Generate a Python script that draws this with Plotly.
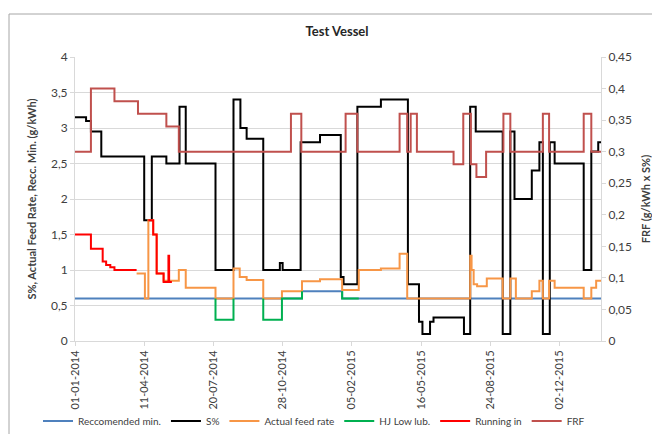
import plotly.graph_objects as go

# ---------------- data (step series: value holds until next date) ----------------
rec_dates = ["2014-01-01", "2014-11-25", "2015-01-22", "2016-01-31"]
rec_values = [0.6, 0.7, 0.6, 0.6]

s_dates = ["2014-01-01", "2014-01-17", "2014-01-24", "2014-02-08", "2014-04-11", "2014-04-22",
           "2014-05-13", "2014-06-01", "2014-06-10", "2014-07-23", "2014-08-18", "2014-08-28",
           "2014-09-06", "2014-09-30", "2014-10-24", "2014-10-28", "2014-11-23", "2014-12-21",
           "2015-01-20", "2015-01-24", "2015-02-13", "2015-03-19", "2015-04-27", "2015-05-13",
           "2015-05-18", "2015-05-29", "2015-06-03", "2015-07-17", "2015-07-26", "2015-08-03",
           "2015-09-11", "2015-09-22", "2015-09-28", "2015-10-23", "2015-11-03", "2015-11-08",
           "2015-11-18", "2015-11-25", "2016-01-06", "2016-01-17", "2016-01-27", "2016-01-31"]
s_values = [3.15, 3.10, 2.95, 2.6, 1.7, 2.6, 2.5, 3.3, 2.5, 1.0,
            3.4, 3.0, 2.85, 1.0, 1.1, 1.0, 2.8, 2.9, 0.9, 0.8,
            3.3, 3.4, 0.8, 0.27, 0.1, 0.27, 0.33, 0.1, 3.3, 2.95,
            0.1, 2.95, 2.0, 2.4, 2.8, 0.1, 2.8, 2.5, 1.0, 2.67,
            2.8, 2.8]

feed_dates = ["2014-03-31", "2014-04-12", "2014-04-17", "2014-04-24", "2014-04-29", "2014-05-09",
              "2014-05-31", "2014-06-10", "2014-07-23", "2014-08-18", "2014-08-27", "2014-09-06",
              "2014-09-30", "2014-10-27", "2014-11-25", "2014-12-21", "2015-01-22", "2015-02-15",
              "2015-03-19", "2015-04-15", "2015-04-26", "2015-07-26", "2015-07-28", "2015-07-31",
              "2015-08-05", "2015-08-19", "2015-09-11", "2015-09-22", "2015-09-30", "2015-10-23",
              "2015-11-03", "2015-11-08", "2015-11-17", "2015-11-25", "2016-01-06", "2016-01-17",
              "2016-01-24", "2016-01-31"]
feed_values = [0.95, 0.6, 1.7, 1.5, 0.95, 0.85, 1.0, 0.75, 0.6, 1.02,
               0.9, 0.86, 0.6, 0.7, 0.84, 0.87, 0.72, 1.0, 1.02, 1.23,
               0.6, 1.2, 1.0, 0.8, 0.77, 0.88, 0.6, 0.88, 0.6, 0.7,
               0.85, 0.6, 0.85, 0.75, 0.6, 0.75, 0.85, 0.85]

hj_dates = ["2014-07-23", "2014-07-23", "2014-08-18", "2014-09-01", "2014-09-30", "2014-09-30",
            "2014-10-27", "2014-11-25", "2014-12-15", "2015-01-22", "2015-01-22", "2015-02-15"]
hj_values = [0.6, 0.3, 0.6, None, 0.6, 0.3, 0.6, 0.7, None, 0.7, 0.6, 0.6]

run_dates = ["2014-01-01", "2014-01-24", "2014-02-10", "2014-02-15", "2014-02-21", "2014-02-27",
             "2014-03-31", "2014-04-10", "2014-04-17", "2014-04-24", "2014-04-29", "2014-05-09",
             "2014-05-16", "2014-05-17", "2014-05-21"]
run_values = [1.5, 1.3, 1.12, 1.07, 1.04, 1.0, 1.0, None, 1.7, 1.5, 0.95, 0.83, 1.2, 0.83, 0.83]

frf_dates = ["2014-01-01", "2014-01-24", "2014-02-27", "2014-04-02", "2014-05-13", "2014-05-31",
             "2014-11-09", "2014-11-24", "2015-01-27", "2015-02-13", "2015-04-15", "2015-04-26",
             "2015-05-01", "2015-05-10", "2015-07-02", "2015-07-16", "2015-07-27", "2015-08-04",
             "2015-08-18", "2015-09-12", "2015-09-22", "2015-11-08", "2015-11-17", "2016-01-06",
             "2016-01-17", "2016-01-31"]
frf_values = [0.30, 0.40, 0.38, 0.36, 0.34, 0.30, 0.36, 0.30, 0.36, 0.30, 0.36, 0.30,
              0.36, 0.30, 0.28, 0.36, 0.28, 0.26, 0.30, 0.36, 0.30, 0.36, 0.30, 0.36,
              0.30, 0.30]

x_tick_dates = ["2014-01-01", "2014-04-11", "2014-07-20", "2014-10-28", "2015-02-05",
                "2015-05-16", "2015-08-24", "2015-12-02"]

names = ["Reccomended min.", "S%", "Actual feed rate", "HJ Low lub.", "Running in", "FRF"]
colors = ["#4F81BD", "#000000", "#F79646", "#00B050", "#FF0000", "#C0504D"]

FONT = "Lato, 'Open Sans', sans-serif"
TXT = "#404040"

fig = go.Figure()
series = [(rec_dates, rec_values, "y"), (s_dates, s_values, "y"), (feed_dates, feed_values, "y"),
          (hj_dates, hj_values, "y"), (run_dates, run_values, "y"), (frf_dates, frf_values, "y2")]
for (xd, yv, ax), nm, col in zip(series, names, colors):
    fig.add_trace(go.Scatter(x=xd, y=yv, name=nm, mode="lines", yaxis=ax, connectgaps=False,
                             line=dict(color=col, width=2, shape="hv")))

fig.update_layout(
    width=652, height=434,
    margin=dict(l=75, r=51, t=57, b=93, autoexpand=False),
    paper_bgcolor="white", plot_bgcolor="white",
    separators=", ",
    font=dict(family=FONT, size=11, color=TXT),
    title=dict(text="<b>Test Vessel</b>", x=0.517, xanchor="center", y=1 - 31 / 434, yanchor="middle",
               font=dict(family=FONT, size=13, color="#262626")),
    showlegend=True,
    legend=dict(orientation="h", xref="paper", yref="paper", x=(38 - 75) / 526, xanchor="left",
                y=(341 - 421) / 284, yanchor="middle",
                font=dict(family=FONT, size=10, color=TXT), itemwidth=30, traceorder="normal",
                bgcolor="rgba(0,0,0,0)", tracegroupgap=0),
    xaxis=dict(type="date", range=["2014-01-01", "2016-01-31"], tickvals=x_tick_dates,
               tickformat="%d-%m-%Y", tickangle=-90, showgrid=False, showline=True, automargin=False,
               linecolor="#d9d9d9", linewidth=1, ticks="outside", ticklen=4, tickcolor="#d9d9d9",
               tickfont=dict(family=FONT, size=11, color=TXT), zeroline=False),
    yaxis=dict(range=[0, 4], dtick=0.5, showgrid=True, gridcolor="#d9d9d9", gridwidth=1, automargin=False,
               showline=True, linecolor="#d9d9d9", ticks="outside", ticklen=4, tickcolor="#d9d9d9",
               zeroline=False, tickfont=dict(family=FONT, size=12, color=TXT),
               title=dict(text="<b>S%, Actual Feed Rate, Recc. Min. (g/kWh)</b>", standoff=12,
                          font=dict(family=FONT, size=11, color=TXT))),
    yaxis2=dict(range=[0, 0.45], dtick=0.05, overlaying="y", side="right", showgrid=False, automargin=False,
                showline=True, linecolor="#d9d9d9", ticks="outside", ticklen=4, tickcolor="#d9d9d9",
                zeroline=False, tickfont=dict(family=FONT, size=12, color=TXT),
                title=dict(text="<b>FRF (g/kWh x S%)</b>", standoff=14,
                           font=dict(family=FONT, size=11, color=TXT))),
)

# outer chart-area border (Excel style)
fig.add_shape(type="rect", xref="paper", yref="paper",
              x0=(9 - 75) / 526, x1=(700 - 75) / 526, y0=(341 - 520) / 284, y1=(341 - 14) / 284,
              line=dict(color="#a6a6a6", width=1), fillcolor="rgba(0,0,0,0)", layer="below")

fig.write_html("out.html", config={"displayModeBar": False},
               post_script="document.body.style.margin='0';")
